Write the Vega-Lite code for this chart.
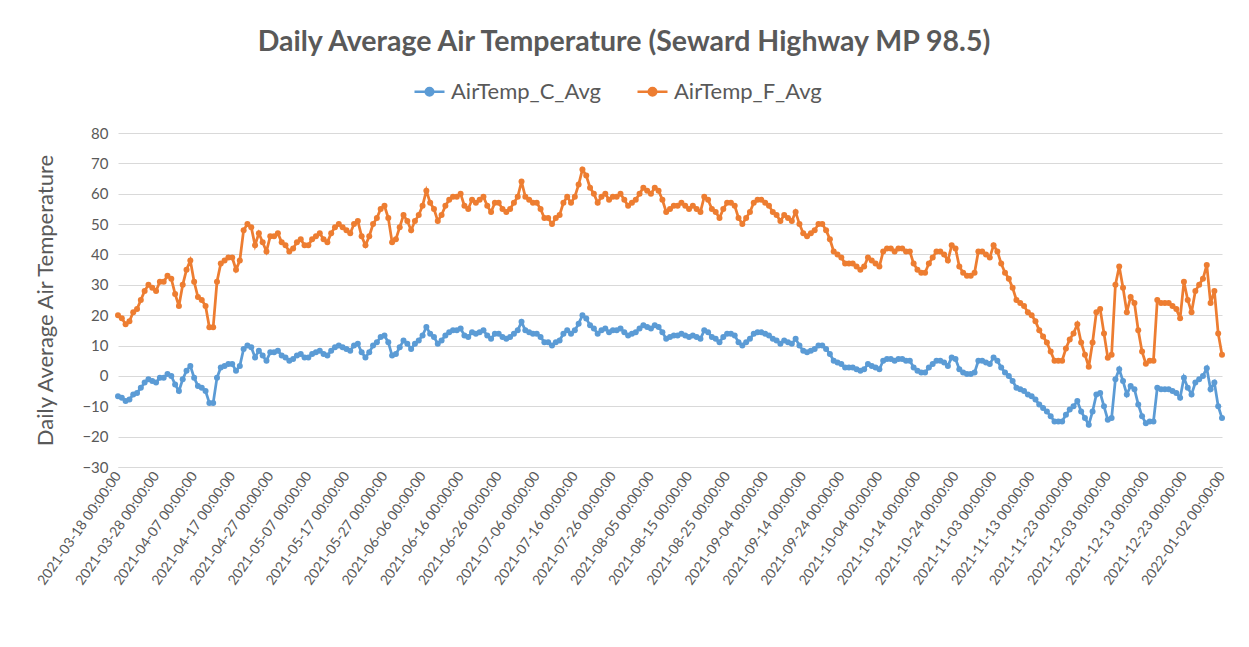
{
"$schema": "https://vega.github.io/schema/vega-lite/v6.json",
"width": 1104, "height": 334,
"autosize": {"type": "none"},
"padding": {"left": 118, "top": 133, "right": 27, "bottom": 180},
"background": "white",
"title": {"text": "Daily Average Air Temperature (Seward Highway MP 98.5)", "frame": "group", "anchor": "middle", "dx": -46, "offset": 19, "fontSize": 28.5, "font": "Lato", "fontWeight": "bold", "color": "#595959"},
"data": {"values": [
{"date":"2021-03-18","AirTemp_C_Avg":-6.7,"AirTemp_F_Avg":20},
{"date":"2021-03-19","AirTemp_C_Avg":-7.2,"AirTemp_F_Avg":19},
{"date":"2021-03-20","AirTemp_C_Avg":-8.3,"AirTemp_F_Avg":17},
{"date":"2021-03-21","AirTemp_C_Avg":-7.8,"AirTemp_F_Avg":18},
{"date":"2021-03-22","AirTemp_C_Avg":-6.1,"AirTemp_F_Avg":21},
{"date":"2021-03-23","AirTemp_C_Avg":-5.6,"AirTemp_F_Avg":22},
{"date":"2021-03-24","AirTemp_C_Avg":-3.9,"AirTemp_F_Avg":25},
{"date":"2021-03-25","AirTemp_C_Avg":-2.2,"AirTemp_F_Avg":28},
{"date":"2021-03-26","AirTemp_C_Avg":-1.1,"AirTemp_F_Avg":30},
{"date":"2021-03-27","AirTemp_C_Avg":-1.7,"AirTemp_F_Avg":29},
{"date":"2021-03-28","AirTemp_C_Avg":-2.2,"AirTemp_F_Avg":28},
{"date":"2021-03-29","AirTemp_C_Avg":-0.6,"AirTemp_F_Avg":31},
{"date":"2021-03-30","AirTemp_C_Avg":-0.6,"AirTemp_F_Avg":31},
{"date":"2021-03-31","AirTemp_C_Avg":0.6,"AirTemp_F_Avg":33},
{"date":"2021-04-01","AirTemp_C_Avg":0.0,"AirTemp_F_Avg":32},
{"date":"2021-04-02","AirTemp_C_Avg":-2.8,"AirTemp_F_Avg":27},
{"date":"2021-04-03","AirTemp_C_Avg":-5.0,"AirTemp_F_Avg":23},
{"date":"2021-04-04","AirTemp_C_Avg":-1.1,"AirTemp_F_Avg":30},
{"date":"2021-04-05","AirTemp_C_Avg":1.7,"AirTemp_F_Avg":35},
{"date":"2021-04-06","AirTemp_C_Avg":3.3,"AirTemp_F_Avg":38},
{"date":"2021-04-07","AirTemp_C_Avg":-0.6,"AirTemp_F_Avg":31},
{"date":"2021-04-08","AirTemp_C_Avg":-3.3,"AirTemp_F_Avg":26},
{"date":"2021-04-09","AirTemp_C_Avg":-3.9,"AirTemp_F_Avg":25},
{"date":"2021-04-10","AirTemp_C_Avg":-5.0,"AirTemp_F_Avg":23},
{"date":"2021-04-11","AirTemp_C_Avg":-8.9,"AirTemp_F_Avg":16},
{"date":"2021-04-12","AirTemp_C_Avg":-8.9,"AirTemp_F_Avg":16},
{"date":"2021-04-13","AirTemp_C_Avg":-0.6,"AirTemp_F_Avg":31},
{"date":"2021-04-14","AirTemp_C_Avg":2.8,"AirTemp_F_Avg":37},
{"date":"2021-04-15","AirTemp_C_Avg":3.3,"AirTemp_F_Avg":38},
{"date":"2021-04-16","AirTemp_C_Avg":3.9,"AirTemp_F_Avg":39},
{"date":"2021-04-17","AirTemp_C_Avg":3.9,"AirTemp_F_Avg":39},
{"date":"2021-04-18","AirTemp_C_Avg":1.7,"AirTemp_F_Avg":35},
{"date":"2021-04-19","AirTemp_C_Avg":3.3,"AirTemp_F_Avg":38},
{"date":"2021-04-20","AirTemp_C_Avg":8.9,"AirTemp_F_Avg":48},
{"date":"2021-04-21","AirTemp_C_Avg":10.0,"AirTemp_F_Avg":50},
{"date":"2021-04-22","AirTemp_C_Avg":9.4,"AirTemp_F_Avg":49},
{"date":"2021-04-23","AirTemp_C_Avg":6.1,"AirTemp_F_Avg":43},
{"date":"2021-04-24","AirTemp_C_Avg":8.3,"AirTemp_F_Avg":47},
{"date":"2021-04-25","AirTemp_C_Avg":6.7,"AirTemp_F_Avg":44},
{"date":"2021-04-26","AirTemp_C_Avg":5.0,"AirTemp_F_Avg":41},
{"date":"2021-04-27","AirTemp_C_Avg":7.8,"AirTemp_F_Avg":46},
{"date":"2021-04-28","AirTemp_C_Avg":7.8,"AirTemp_F_Avg":46},
{"date":"2021-04-29","AirTemp_C_Avg":8.3,"AirTemp_F_Avg":47},
{"date":"2021-04-30","AirTemp_C_Avg":6.7,"AirTemp_F_Avg":44},
{"date":"2021-05-01","AirTemp_C_Avg":6.1,"AirTemp_F_Avg":43},
{"date":"2021-05-02","AirTemp_C_Avg":5.0,"AirTemp_F_Avg":41},
{"date":"2021-05-03","AirTemp_C_Avg":5.6,"AirTemp_F_Avg":42},
{"date":"2021-05-04","AirTemp_C_Avg":6.7,"AirTemp_F_Avg":44},
{"date":"2021-05-05","AirTemp_C_Avg":7.2,"AirTemp_F_Avg":45},
{"date":"2021-05-06","AirTemp_C_Avg":6.1,"AirTemp_F_Avg":43},
{"date":"2021-05-07","AirTemp_C_Avg":6.1,"AirTemp_F_Avg":43},
{"date":"2021-05-08","AirTemp_C_Avg":7.2,"AirTemp_F_Avg":45},
{"date":"2021-05-09","AirTemp_C_Avg":7.8,"AirTemp_F_Avg":46},
{"date":"2021-05-10","AirTemp_C_Avg":8.3,"AirTemp_F_Avg":47},
{"date":"2021-05-11","AirTemp_C_Avg":7.2,"AirTemp_F_Avg":45},
{"date":"2021-05-12","AirTemp_C_Avg":6.7,"AirTemp_F_Avg":44},
{"date":"2021-05-13","AirTemp_C_Avg":8.3,"AirTemp_F_Avg":47},
{"date":"2021-05-14","AirTemp_C_Avg":9.4,"AirTemp_F_Avg":49},
{"date":"2021-05-15","AirTemp_C_Avg":10.0,"AirTemp_F_Avg":50},
{"date":"2021-05-16","AirTemp_C_Avg":9.4,"AirTemp_F_Avg":49},
{"date":"2021-05-17","AirTemp_C_Avg":8.9,"AirTemp_F_Avg":48},
{"date":"2021-05-18","AirTemp_C_Avg":8.3,"AirTemp_F_Avg":47},
{"date":"2021-05-19","AirTemp_C_Avg":10.0,"AirTemp_F_Avg":50},
{"date":"2021-05-20","AirTemp_C_Avg":10.6,"AirTemp_F_Avg":51},
{"date":"2021-05-21","AirTemp_C_Avg":7.8,"AirTemp_F_Avg":46},
{"date":"2021-05-22","AirTemp_C_Avg":6.1,"AirTemp_F_Avg":43},
{"date":"2021-05-23","AirTemp_C_Avg":7.8,"AirTemp_F_Avg":46},
{"date":"2021-05-24","AirTemp_C_Avg":10.0,"AirTemp_F_Avg":50},
{"date":"2021-05-25","AirTemp_C_Avg":11.1,"AirTemp_F_Avg":52},
{"date":"2021-05-26","AirTemp_C_Avg":12.8,"AirTemp_F_Avg":55},
{"date":"2021-05-27","AirTemp_C_Avg":13.3,"AirTemp_F_Avg":56},
{"date":"2021-05-28","AirTemp_C_Avg":11.1,"AirTemp_F_Avg":52},
{"date":"2021-05-29","AirTemp_C_Avg":6.7,"AirTemp_F_Avg":44},
{"date":"2021-05-30","AirTemp_C_Avg":7.2,"AirTemp_F_Avg":45},
{"date":"2021-05-31","AirTemp_C_Avg":9.4,"AirTemp_F_Avg":49},
{"date":"2021-06-01","AirTemp_C_Avg":11.7,"AirTemp_F_Avg":53},
{"date":"2021-06-02","AirTemp_C_Avg":10.6,"AirTemp_F_Avg":51},
{"date":"2021-06-03","AirTemp_C_Avg":8.9,"AirTemp_F_Avg":48},
{"date":"2021-06-04","AirTemp_C_Avg":10.6,"AirTemp_F_Avg":51},
{"date":"2021-06-05","AirTemp_C_Avg":11.7,"AirTemp_F_Avg":53},
{"date":"2021-06-06","AirTemp_C_Avg":13.3,"AirTemp_F_Avg":56},
{"date":"2021-06-07","AirTemp_C_Avg":16.1,"AirTemp_F_Avg":61},
{"date":"2021-06-08","AirTemp_C_Avg":13.9,"AirTemp_F_Avg":57},
{"date":"2021-06-09","AirTemp_C_Avg":12.8,"AirTemp_F_Avg":55},
{"date":"2021-06-10","AirTemp_C_Avg":10.6,"AirTemp_F_Avg":51},
{"date":"2021-06-11","AirTemp_C_Avg":11.7,"AirTemp_F_Avg":53},
{"date":"2021-06-12","AirTemp_C_Avg":13.3,"AirTemp_F_Avg":56},
{"date":"2021-06-13","AirTemp_C_Avg":14.4,"AirTemp_F_Avg":58},
{"date":"2021-06-14","AirTemp_C_Avg":15.0,"AirTemp_F_Avg":59},
{"date":"2021-06-15","AirTemp_C_Avg":15.0,"AirTemp_F_Avg":59},
{"date":"2021-06-16","AirTemp_C_Avg":15.6,"AirTemp_F_Avg":60},
{"date":"2021-06-17","AirTemp_C_Avg":13.3,"AirTemp_F_Avg":56},
{"date":"2021-06-18","AirTemp_C_Avg":12.8,"AirTemp_F_Avg":55},
{"date":"2021-06-19","AirTemp_C_Avg":14.4,"AirTemp_F_Avg":58},
{"date":"2021-06-20","AirTemp_C_Avg":13.9,"AirTemp_F_Avg":57},
{"date":"2021-06-21","AirTemp_C_Avg":14.4,"AirTemp_F_Avg":58},
{"date":"2021-06-22","AirTemp_C_Avg":15.0,"AirTemp_F_Avg":59},
{"date":"2021-06-23","AirTemp_C_Avg":13.3,"AirTemp_F_Avg":56},
{"date":"2021-06-24","AirTemp_C_Avg":12.2,"AirTemp_F_Avg":54},
{"date":"2021-06-25","AirTemp_C_Avg":13.9,"AirTemp_F_Avg":57},
{"date":"2021-06-26","AirTemp_C_Avg":13.9,"AirTemp_F_Avg":57},
{"date":"2021-06-27","AirTemp_C_Avg":12.8,"AirTemp_F_Avg":55},
{"date":"2021-06-28","AirTemp_C_Avg":12.2,"AirTemp_F_Avg":54},
{"date":"2021-06-29","AirTemp_C_Avg":12.8,"AirTemp_F_Avg":55},
{"date":"2021-06-30","AirTemp_C_Avg":13.9,"AirTemp_F_Avg":57},
{"date":"2021-07-01","AirTemp_C_Avg":15.0,"AirTemp_F_Avg":59},
{"date":"2021-07-02","AirTemp_C_Avg":17.8,"AirTemp_F_Avg":64},
{"date":"2021-07-03","AirTemp_C_Avg":15.0,"AirTemp_F_Avg":59},
{"date":"2021-07-04","AirTemp_C_Avg":14.4,"AirTemp_F_Avg":58},
{"date":"2021-07-05","AirTemp_C_Avg":13.9,"AirTemp_F_Avg":57},
{"date":"2021-07-06","AirTemp_C_Avg":13.9,"AirTemp_F_Avg":57},
{"date":"2021-07-07","AirTemp_C_Avg":12.8,"AirTemp_F_Avg":55},
{"date":"2021-07-08","AirTemp_C_Avg":11.1,"AirTemp_F_Avg":52},
{"date":"2021-07-09","AirTemp_C_Avg":11.1,"AirTemp_F_Avg":52},
{"date":"2021-07-10","AirTemp_C_Avg":10.0,"AirTemp_F_Avg":50},
{"date":"2021-07-11","AirTemp_C_Avg":11.1,"AirTemp_F_Avg":52},
{"date":"2021-07-12","AirTemp_C_Avg":11.7,"AirTemp_F_Avg":53},
{"date":"2021-07-13","AirTemp_C_Avg":13.9,"AirTemp_F_Avg":57},
{"date":"2021-07-14","AirTemp_C_Avg":15.0,"AirTemp_F_Avg":59},
{"date":"2021-07-15","AirTemp_C_Avg":13.9,"AirTemp_F_Avg":57},
{"date":"2021-07-16","AirTemp_C_Avg":15.0,"AirTemp_F_Avg":59},
{"date":"2021-07-17","AirTemp_C_Avg":17.2,"AirTemp_F_Avg":63},
{"date":"2021-07-18","AirTemp_C_Avg":20.0,"AirTemp_F_Avg":68},
{"date":"2021-07-19","AirTemp_C_Avg":18.9,"AirTemp_F_Avg":66},
{"date":"2021-07-20","AirTemp_C_Avg":16.7,"AirTemp_F_Avg":62},
{"date":"2021-07-21","AirTemp_C_Avg":15.6,"AirTemp_F_Avg":60},
{"date":"2021-07-22","AirTemp_C_Avg":13.9,"AirTemp_F_Avg":57},
{"date":"2021-07-23","AirTemp_C_Avg":15.0,"AirTemp_F_Avg":59},
{"date":"2021-07-24","AirTemp_C_Avg":15.6,"AirTemp_F_Avg":60},
{"date":"2021-07-25","AirTemp_C_Avg":14.4,"AirTemp_F_Avg":58},
{"date":"2021-07-26","AirTemp_C_Avg":15.0,"AirTemp_F_Avg":59},
{"date":"2021-07-27","AirTemp_C_Avg":15.0,"AirTemp_F_Avg":59},
{"date":"2021-07-28","AirTemp_C_Avg":15.6,"AirTemp_F_Avg":60},
{"date":"2021-07-29","AirTemp_C_Avg":14.4,"AirTemp_F_Avg":58},
{"date":"2021-07-30","AirTemp_C_Avg":13.3,"AirTemp_F_Avg":56},
{"date":"2021-07-31","AirTemp_C_Avg":13.9,"AirTemp_F_Avg":57},
{"date":"2021-08-01","AirTemp_C_Avg":14.4,"AirTemp_F_Avg":58},
{"date":"2021-08-02","AirTemp_C_Avg":15.6,"AirTemp_F_Avg":60},
{"date":"2021-08-03","AirTemp_C_Avg":16.7,"AirTemp_F_Avg":62},
{"date":"2021-08-04","AirTemp_C_Avg":16.1,"AirTemp_F_Avg":61},
{"date":"2021-08-05","AirTemp_C_Avg":15.6,"AirTemp_F_Avg":60},
{"date":"2021-08-06","AirTemp_C_Avg":16.7,"AirTemp_F_Avg":62},
{"date":"2021-08-07","AirTemp_C_Avg":16.1,"AirTemp_F_Avg":61},
{"date":"2021-08-08","AirTemp_C_Avg":14.4,"AirTemp_F_Avg":58},
{"date":"2021-08-09","AirTemp_C_Avg":12.2,"AirTemp_F_Avg":54},
{"date":"2021-08-10","AirTemp_C_Avg":12.8,"AirTemp_F_Avg":55},
{"date":"2021-08-11","AirTemp_C_Avg":13.3,"AirTemp_F_Avg":56},
{"date":"2021-08-12","AirTemp_C_Avg":13.3,"AirTemp_F_Avg":56},
{"date":"2021-08-13","AirTemp_C_Avg":13.9,"AirTemp_F_Avg":57},
{"date":"2021-08-14","AirTemp_C_Avg":13.3,"AirTemp_F_Avg":56},
{"date":"2021-08-15","AirTemp_C_Avg":12.8,"AirTemp_F_Avg":55},
{"date":"2021-08-16","AirTemp_C_Avg":13.3,"AirTemp_F_Avg":56},
{"date":"2021-08-17","AirTemp_C_Avg":12.8,"AirTemp_F_Avg":55},
{"date":"2021-08-18","AirTemp_C_Avg":12.2,"AirTemp_F_Avg":54},
{"date":"2021-08-19","AirTemp_C_Avg":15.0,"AirTemp_F_Avg":59},
{"date":"2021-08-20","AirTemp_C_Avg":14.4,"AirTemp_F_Avg":58},
{"date":"2021-08-21","AirTemp_C_Avg":12.8,"AirTemp_F_Avg":55},
{"date":"2021-08-22","AirTemp_C_Avg":12.2,"AirTemp_F_Avg":54},
{"date":"2021-08-23","AirTemp_C_Avg":11.1,"AirTemp_F_Avg":52},
{"date":"2021-08-24","AirTemp_C_Avg":12.8,"AirTemp_F_Avg":55},
{"date":"2021-08-25","AirTemp_C_Avg":13.9,"AirTemp_F_Avg":57},
{"date":"2021-08-26","AirTemp_C_Avg":13.9,"AirTemp_F_Avg":57},
{"date":"2021-08-27","AirTemp_C_Avg":13.3,"AirTemp_F_Avg":56},
{"date":"2021-08-28","AirTemp_C_Avg":11.1,"AirTemp_F_Avg":52},
{"date":"2021-08-29","AirTemp_C_Avg":10.0,"AirTemp_F_Avg":50},
{"date":"2021-08-30","AirTemp_C_Avg":11.1,"AirTemp_F_Avg":52},
{"date":"2021-08-31","AirTemp_C_Avg":12.2,"AirTemp_F_Avg":54},
{"date":"2021-09-01","AirTemp_C_Avg":13.9,"AirTemp_F_Avg":57},
{"date":"2021-09-02","AirTemp_C_Avg":14.4,"AirTemp_F_Avg":58},
{"date":"2021-09-03","AirTemp_C_Avg":14.4,"AirTemp_F_Avg":58},
{"date":"2021-09-04","AirTemp_C_Avg":13.9,"AirTemp_F_Avg":57},
{"date":"2021-09-05","AirTemp_C_Avg":13.3,"AirTemp_F_Avg":56},
{"date":"2021-09-06","AirTemp_C_Avg":12.2,"AirTemp_F_Avg":54},
{"date":"2021-09-07","AirTemp_C_Avg":11.7,"AirTemp_F_Avg":53},
{"date":"2021-09-08","AirTemp_C_Avg":10.6,"AirTemp_F_Avg":51},
{"date":"2021-09-09","AirTemp_C_Avg":11.7,"AirTemp_F_Avg":53},
{"date":"2021-09-10","AirTemp_C_Avg":11.1,"AirTemp_F_Avg":52},
{"date":"2021-09-11","AirTemp_C_Avg":10.6,"AirTemp_F_Avg":51},
{"date":"2021-09-12","AirTemp_C_Avg":12.2,"AirTemp_F_Avg":54},
{"date":"2021-09-13","AirTemp_C_Avg":10.0,"AirTemp_F_Avg":50},
{"date":"2021-09-14","AirTemp_C_Avg":8.3,"AirTemp_F_Avg":47},
{"date":"2021-09-15","AirTemp_C_Avg":7.8,"AirTemp_F_Avg":46},
{"date":"2021-09-16","AirTemp_C_Avg":8.3,"AirTemp_F_Avg":47},
{"date":"2021-09-17","AirTemp_C_Avg":8.9,"AirTemp_F_Avg":48},
{"date":"2021-09-18","AirTemp_C_Avg":10.0,"AirTemp_F_Avg":50},
{"date":"2021-09-19","AirTemp_C_Avg":10.0,"AirTemp_F_Avg":50},
{"date":"2021-09-20","AirTemp_C_Avg":8.9,"AirTemp_F_Avg":48},
{"date":"2021-09-21","AirTemp_C_Avg":7.2,"AirTemp_F_Avg":45},
{"date":"2021-09-22","AirTemp_C_Avg":5.0,"AirTemp_F_Avg":41},
{"date":"2021-09-23","AirTemp_C_Avg":4.4,"AirTemp_F_Avg":40},
{"date":"2021-09-24","AirTemp_C_Avg":3.9,"AirTemp_F_Avg":39},
{"date":"2021-09-25","AirTemp_C_Avg":2.8,"AirTemp_F_Avg":37},
{"date":"2021-09-26","AirTemp_C_Avg":2.8,"AirTemp_F_Avg":37},
{"date":"2021-09-27","AirTemp_C_Avg":2.8,"AirTemp_F_Avg":37},
{"date":"2021-09-28","AirTemp_C_Avg":2.2,"AirTemp_F_Avg":36},
{"date":"2021-09-29","AirTemp_C_Avg":1.7,"AirTemp_F_Avg":35},
{"date":"2021-09-30","AirTemp_C_Avg":2.2,"AirTemp_F_Avg":36},
{"date":"2021-10-01","AirTemp_C_Avg":3.9,"AirTemp_F_Avg":39},
{"date":"2021-10-02","AirTemp_C_Avg":3.3,"AirTemp_F_Avg":38},
{"date":"2021-10-03","AirTemp_C_Avg":2.8,"AirTemp_F_Avg":37},
{"date":"2021-10-04","AirTemp_C_Avg":2.2,"AirTemp_F_Avg":36},
{"date":"2021-10-05","AirTemp_C_Avg":5.0,"AirTemp_F_Avg":41},
{"date":"2021-10-06","AirTemp_C_Avg":5.6,"AirTemp_F_Avg":42},
{"date":"2021-10-07","AirTemp_C_Avg":5.6,"AirTemp_F_Avg":42},
{"date":"2021-10-08","AirTemp_C_Avg":5.0,"AirTemp_F_Avg":41},
{"date":"2021-10-09","AirTemp_C_Avg":5.6,"AirTemp_F_Avg":42},
{"date":"2021-10-10","AirTemp_C_Avg":5.6,"AirTemp_F_Avg":42},
{"date":"2021-10-11","AirTemp_C_Avg":5.0,"AirTemp_F_Avg":41},
{"date":"2021-10-12","AirTemp_C_Avg":5.0,"AirTemp_F_Avg":41},
{"date":"2021-10-13","AirTemp_C_Avg":2.8,"AirTemp_F_Avg":37},
{"date":"2021-10-14","AirTemp_C_Avg":1.7,"AirTemp_F_Avg":35},
{"date":"2021-10-15","AirTemp_C_Avg":1.1,"AirTemp_F_Avg":34},
{"date":"2021-10-16","AirTemp_C_Avg":1.1,"AirTemp_F_Avg":34},
{"date":"2021-10-17","AirTemp_C_Avg":2.8,"AirTemp_F_Avg":37},
{"date":"2021-10-18","AirTemp_C_Avg":3.9,"AirTemp_F_Avg":39},
{"date":"2021-10-19","AirTemp_C_Avg":5.0,"AirTemp_F_Avg":41},
{"date":"2021-10-20","AirTemp_C_Avg":5.0,"AirTemp_F_Avg":41},
{"date":"2021-10-21","AirTemp_C_Avg":4.4,"AirTemp_F_Avg":40},
{"date":"2021-10-22","AirTemp_C_Avg":3.3,"AirTemp_F_Avg":38},
{"date":"2021-10-23","AirTemp_C_Avg":6.1,"AirTemp_F_Avg":43},
{"date":"2021-10-24","AirTemp_C_Avg":5.6,"AirTemp_F_Avg":42},
{"date":"2021-10-25","AirTemp_C_Avg":2.2,"AirTemp_F_Avg":36},
{"date":"2021-10-26","AirTemp_C_Avg":1.1,"AirTemp_F_Avg":34},
{"date":"2021-10-27","AirTemp_C_Avg":0.6,"AirTemp_F_Avg":33},
{"date":"2021-10-28","AirTemp_C_Avg":0.6,"AirTemp_F_Avg":33},
{"date":"2021-10-29","AirTemp_C_Avg":1.1,"AirTemp_F_Avg":34},
{"date":"2021-10-30","AirTemp_C_Avg":5.0,"AirTemp_F_Avg":41},
{"date":"2021-10-31","AirTemp_C_Avg":5.0,"AirTemp_F_Avg":41},
{"date":"2021-11-01","AirTemp_C_Avg":4.4,"AirTemp_F_Avg":40},
{"date":"2021-11-02","AirTemp_C_Avg":3.9,"AirTemp_F_Avg":39},
{"date":"2021-11-03","AirTemp_C_Avg":6.1,"AirTemp_F_Avg":43},
{"date":"2021-11-04","AirTemp_C_Avg":5.0,"AirTemp_F_Avg":41},
{"date":"2021-11-05","AirTemp_C_Avg":2.8,"AirTemp_F_Avg":37},
{"date":"2021-11-06","AirTemp_C_Avg":1.1,"AirTemp_F_Avg":34},
{"date":"2021-11-07","AirTemp_C_Avg":0.0,"AirTemp_F_Avg":32},
{"date":"2021-11-08","AirTemp_C_Avg":-1.7,"AirTemp_F_Avg":29},
{"date":"2021-11-09","AirTemp_C_Avg":-3.9,"AirTemp_F_Avg":25},
{"date":"2021-11-10","AirTemp_C_Avg":-4.4,"AirTemp_F_Avg":24},
{"date":"2021-11-11","AirTemp_C_Avg":-5.0,"AirTemp_F_Avg":23},
{"date":"2021-11-12","AirTemp_C_Avg":-6.1,"AirTemp_F_Avg":21},
{"date":"2021-11-13","AirTemp_C_Avg":-6.7,"AirTemp_F_Avg":20},
{"date":"2021-11-14","AirTemp_C_Avg":-7.8,"AirTemp_F_Avg":18},
{"date":"2021-11-15","AirTemp_C_Avg":-9.4,"AirTemp_F_Avg":15},
{"date":"2021-11-16","AirTemp_C_Avg":-10.6,"AirTemp_F_Avg":13},
{"date":"2021-11-17","AirTemp_C_Avg":-11.7,"AirTemp_F_Avg":11},
{"date":"2021-11-18","AirTemp_C_Avg":-13.3,"AirTemp_F_Avg":8},
{"date":"2021-11-19","AirTemp_C_Avg":-15.0,"AirTemp_F_Avg":5},
{"date":"2021-11-20","AirTemp_C_Avg":-15.0,"AirTemp_F_Avg":5},
{"date":"2021-11-21","AirTemp_C_Avg":-15.0,"AirTemp_F_Avg":5},
{"date":"2021-11-22","AirTemp_C_Avg":-12.8,"AirTemp_F_Avg":9},
{"date":"2021-11-23","AirTemp_C_Avg":-11.1,"AirTemp_F_Avg":12},
{"date":"2021-11-24","AirTemp_C_Avg":-10.0,"AirTemp_F_Avg":14},
{"date":"2021-11-25","AirTemp_C_Avg":-8.3,"AirTemp_F_Avg":17},
{"date":"2021-11-26","AirTemp_C_Avg":-11.7,"AirTemp_F_Avg":11},
{"date":"2021-11-27","AirTemp_C_Avg":-13.9,"AirTemp_F_Avg":7},
{"date":"2021-11-28","AirTemp_C_Avg":-16.1,"AirTemp_F_Avg":3},
{"date":"2021-11-29","AirTemp_C_Avg":-11.7,"AirTemp_F_Avg":11},
{"date":"2021-11-30","AirTemp_C_Avg":-6.1,"AirTemp_F_Avg":21},
{"date":"2021-12-01","AirTemp_C_Avg":-5.6,"AirTemp_F_Avg":22},
{"date":"2021-12-02","AirTemp_C_Avg":-10.0,"AirTemp_F_Avg":14},
{"date":"2021-12-03","AirTemp_C_Avg":-14.4,"AirTemp_F_Avg":6},
{"date":"2021-12-04","AirTemp_C_Avg":-13.9,"AirTemp_F_Avg":7},
{"date":"2021-12-05","AirTemp_C_Avg":-1.1,"AirTemp_F_Avg":30},
{"date":"2021-12-06","AirTemp_C_Avg":2.2,"AirTemp_F_Avg":36},
{"date":"2021-12-07","AirTemp_C_Avg":-1.7,"AirTemp_F_Avg":29},
{"date":"2021-12-08","AirTemp_C_Avg":-6.1,"AirTemp_F_Avg":21},
{"date":"2021-12-09","AirTemp_C_Avg":-3.3,"AirTemp_F_Avg":26},
{"date":"2021-12-10","AirTemp_C_Avg":-4.4,"AirTemp_F_Avg":24},
{"date":"2021-12-11","AirTemp_C_Avg":-9.4,"AirTemp_F_Avg":15},
{"date":"2021-12-12","AirTemp_C_Avg":-13.3,"AirTemp_F_Avg":8},
{"date":"2021-12-13","AirTemp_C_Avg":-15.6,"AirTemp_F_Avg":4},
{"date":"2021-12-14","AirTemp_C_Avg":-15.0,"AirTemp_F_Avg":5},
{"date":"2021-12-15","AirTemp_C_Avg":-15.0,"AirTemp_F_Avg":5},
{"date":"2021-12-16","AirTemp_C_Avg":-3.9,"AirTemp_F_Avg":25},
{"date":"2021-12-17","AirTemp_C_Avg":-4.4,"AirTemp_F_Avg":24},
{"date":"2021-12-18","AirTemp_C_Avg":-4.4,"AirTemp_F_Avg":24},
{"date":"2021-12-19","AirTemp_C_Avg":-4.4,"AirTemp_F_Avg":24},
{"date":"2021-12-20","AirTemp_C_Avg":-5.0,"AirTemp_F_Avg":23},
{"date":"2021-12-21","AirTemp_C_Avg":-5.6,"AirTemp_F_Avg":22},
{"date":"2021-12-22","AirTemp_C_Avg":-7.2,"AirTemp_F_Avg":19},
{"date":"2021-12-23","AirTemp_C_Avg":-0.6,"AirTemp_F_Avg":31},
{"date":"2021-12-24","AirTemp_C_Avg":-3.9,"AirTemp_F_Avg":25},
{"date":"2021-12-25","AirTemp_C_Avg":-6.1,"AirTemp_F_Avg":21},
{"date":"2021-12-26","AirTemp_C_Avg":-2.2,"AirTemp_F_Avg":28},
{"date":"2021-12-27","AirTemp_C_Avg":-1.1,"AirTemp_F_Avg":30},
{"date":"2021-12-28","AirTemp_C_Avg":0.0,"AirTemp_F_Avg":32},
{"date":"2021-12-29","AirTemp_C_Avg":2.5,"AirTemp_F_Avg":36.5},
{"date":"2021-12-30","AirTemp_C_Avg":-4.4,"AirTemp_F_Avg":24},
{"date":"2021-12-31","AirTemp_C_Avg":-2.2,"AirTemp_F_Avg":28},
{"date":"2022-01-01","AirTemp_C_Avg":-10.0,"AirTemp_F_Avg":14},
{"date":"2022-01-02","AirTemp_C_Avg":-13.9,"AirTemp_F_Avg":7}
]},
"transform": [{"fold": ["AirTemp_C_Avg", "AirTemp_F_Avg"], "as": ["series", "value"]}],
"mark": {"type": "line", "strokeWidth": 2.75, "point": {"filled": true, "size": 36}},
"encoding": {
  "x": {"field": "date", "type": "temporal",
    "scale": {"type": "utc", "domain": [{"year": 2021, "month": 3, "date": 18, "utc": true}, {"year": 2022, "month": 1, "date": 2, "utc": true}]},
    "axis": {"title": null, "grid": false, "ticks": false, "domain": true, "domainColor": "#D9D9D9", "domainWidth": 1,
      "labelExpr": "utcFormat(datum.value, '%Y-%m-%d %H:%M:%S')",
      "labelAngle": -55, "labelAlign": "right", "labelBaseline": "middle", "labelPadding": 6,
      "labelFontSize": 14, "labelColor": "#595959", "labelOverlap": false, "labelFlush": false, "labelBound": false,
      "values": [
        {"year": 2021, "month": 3, "date": 18, "utc": true}, {"year": 2021, "month": 3, "date": 28, "utc": true},
        {"year": 2021, "month": 4, "date": 7, "utc": true}, {"year": 2021, "month": 4, "date": 17, "utc": true},
        {"year": 2021, "month": 4, "date": 27, "utc": true}, {"year": 2021, "month": 5, "date": 7, "utc": true},
        {"year": 2021, "month": 5, "date": 17, "utc": true}, {"year": 2021, "month": 5, "date": 27, "utc": true},
        {"year": 2021, "month": 6, "date": 6, "utc": true}, {"year": 2021, "month": 6, "date": 16, "utc": true},
        {"year": 2021, "month": 6, "date": 26, "utc": true}, {"year": 2021, "month": 7, "date": 6, "utc": true},
        {"year": 2021, "month": 7, "date": 16, "utc": true}, {"year": 2021, "month": 7, "date": 26, "utc": true},
        {"year": 2021, "month": 8, "date": 5, "utc": true}, {"year": 2021, "month": 8, "date": 15, "utc": true},
        {"year": 2021, "month": 8, "date": 25, "utc": true}, {"year": 2021, "month": 9, "date": 4, "utc": true},
        {"year": 2021, "month": 9, "date": 14, "utc": true}, {"year": 2021, "month": 9, "date": 24, "utc": true},
        {"year": 2021, "month": 10, "date": 4, "utc": true}, {"year": 2021, "month": 10, "date": 14, "utc": true},
        {"year": 2021, "month": 10, "date": 24, "utc": true}, {"year": 2021, "month": 11, "date": 3, "utc": true},
        {"year": 2021, "month": 11, "date": 13, "utc": true}, {"year": 2021, "month": 11, "date": 23, "utc": true},
        {"year": 2021, "month": 12, "date": 3, "utc": true}, {"year": 2021, "month": 12, "date": 13, "utc": true},
        {"year": 2021, "month": 12, "date": 23, "utc": true}, {"year": 2022, "month": 1, "date": 2, "utc": true}
      ]}},
  "y": {"field": "value", "type": "quantitative",
    "scale": {"domain": [-30, 80], "nice": false, "zero": false},
    "axis": {"values": [-30, -20, -10, 0, 10, 20, 30, 40, 50, 60, 70, 80], "domain": false, "ticks": false,
      "gridColor": "#D9D9D9", "gridWidth": 1, "labelFontSize": 15, "labelColor": "#595959", "labelPadding": 10,
      "title": "Daily Average Air Temperature", "titleFontSize": 22, "titleFontWeight": "normal", "titleColor": "#595959", "titlePadding": 24}},
  "color": {"field": "series", "type": "nominal",
    "scale": {"domain": ["AirTemp_C_Avg", "AirTemp_F_Avg"], "range": ["#5B9BD5", "#ED7D31"]},
    "legend": {"title": null, "orient": "none", "direction": "horizontal", "legendX": 295, "legendY": -58, "padding": 0,
      "symbolType": "M-1,0H1M0.25,0A0.25,0.25,0,1,1,-0.25,0A0.25,0.25,0,1,1,0.25,0Z", "symbolSize": 900, "symbolStrokeWidth": 2.5,
      "labelFontSize": 22, "labelFont": "Lato", "labelColor": "#595959", "labelOffset": 5, "columnPadding": 30,
      "encode": {"symbols": {"update": {"fill": {"scale": "color", "field": "value"}, "stroke": {"scale": "color", "field": "value"}}}}}}
},
"config": {"font": "Lato", "view": {"stroke": null}, "axis": {"labelFont": "Lato", "titleFont": "Lato"}}
}
